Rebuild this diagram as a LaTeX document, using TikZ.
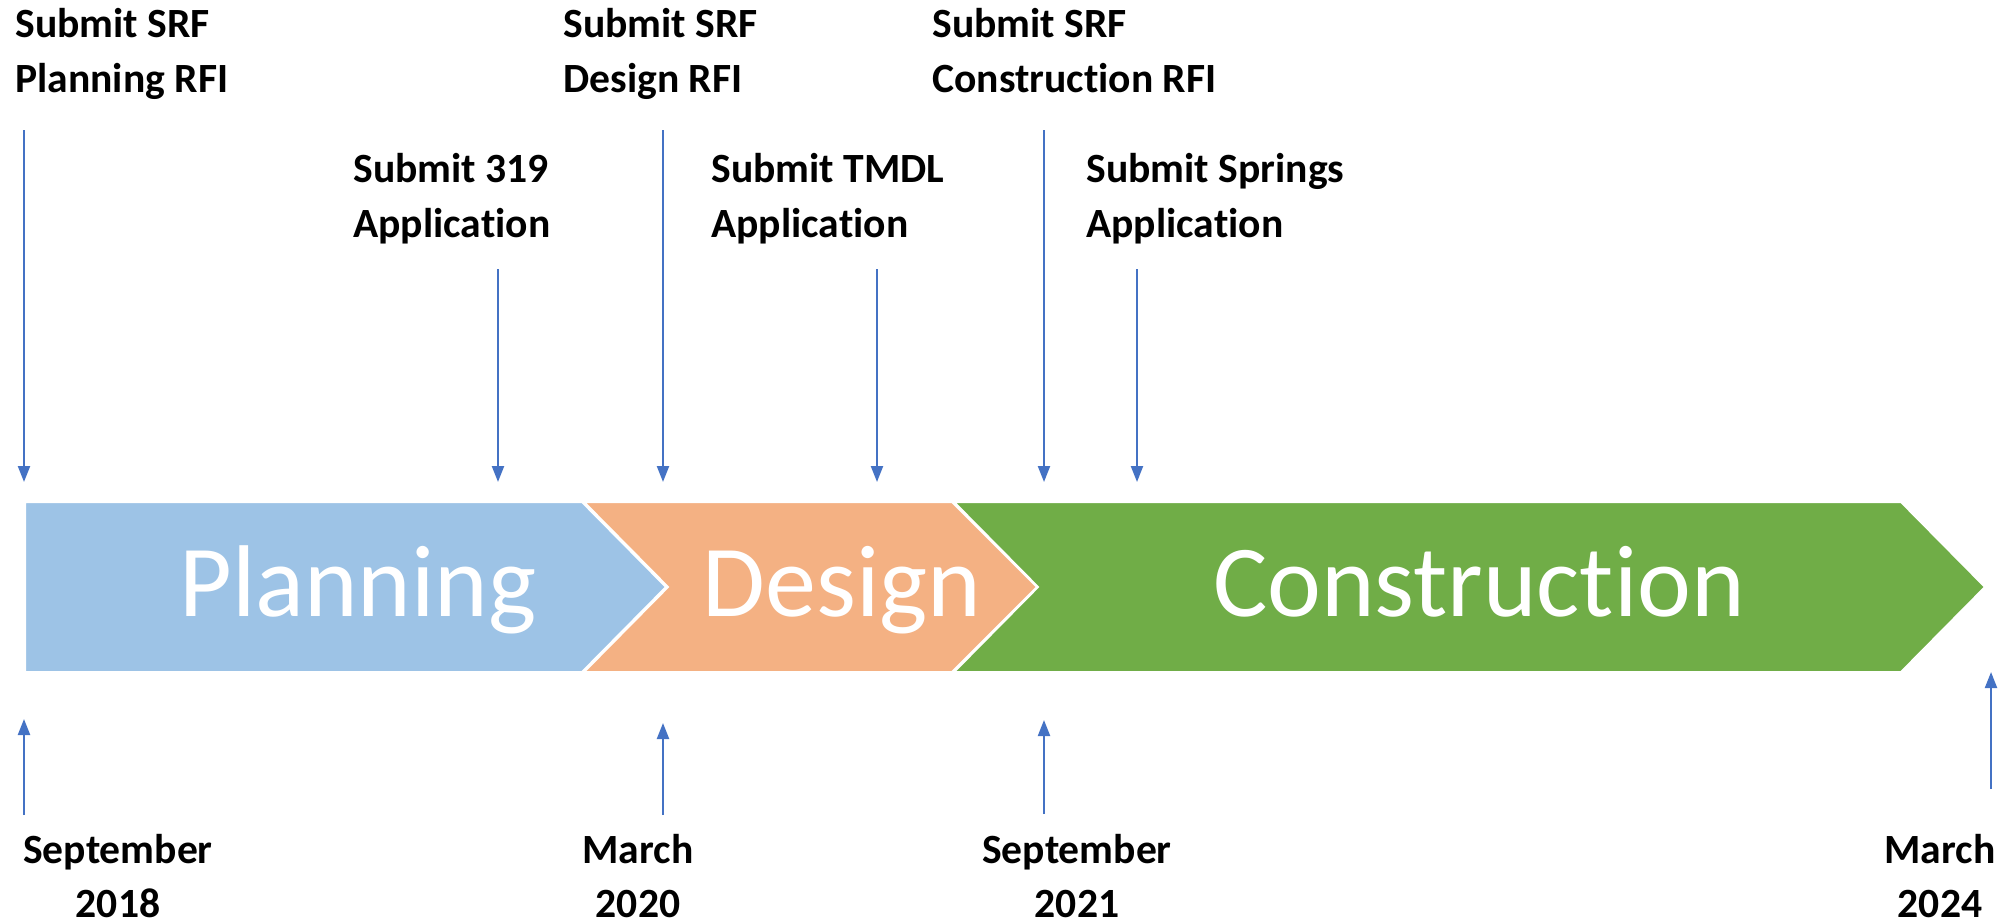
\documentclass[tikz,border=0pt]{standalone}
\usepackage{fontspec}
\setmainfont{Carlito}[Ligatures=NoCommon]
\usetikzlibrary{arrows.meta}
\definecolor{planblue}{HTML}{9DC3E6}
\definecolor{designorange}{HTML}{F4B183}
\definecolor{buildgreen}{HTML}{70AD47}
\definecolor{arrowblue}{HTML}{4472C4}
\begin{document}
\begin{tikzpicture}[x=0.5pt, y=-0.5pt,
    tick/.style={arrowblue, line width=1.1pt, -{Triangle[length=8pt,width=6pt]}},
    phase/.style={draw=white, line width=1pt},
    phasetext/.style={white, inner sep=0, anchor=base, font=\fontsize{51pt}{60pt}\selectfont},
    toplbl/.style={inner sep=0, anchor=base west, align=left, font=\fontsize{20.8pt}{27.5pt}\selectfont\bfseries},
    datelbl/.style={inner sep=0, anchor=base, align=center, font=\fontsize{20.8pt}{27pt}\selectfont\bfseries}]
    \useasboundingbox (0,0) rectangle (2007,923);

    % Phases
    \filldraw[planblue, phase] (25,502) -- (582,502) -- (666,587) -- (582,672) -- (25,672) -- cycle;
    \filldraw[designorange, phase] (584,502) -- (952,502) -- (1037,587) -- (952,672) -- (584,672) -- (668,587) -- cycle;
    \filldraw[buildgreen, phase] (954,502) -- (1901,502) -- (1985,587) -- (1901,672) -- (954,672) -- (1038,587) -- cycle;

    \node[phasetext] (planning) at (358,616) {Planning};
    \node[phasetext] (design) at (842,616) {Design};
    \node[phasetext] (construction) at (1479,616) {Construction};

    % Submissions (base = last line)
    \node[toplbl] (srfplan) at (15,92) {Submit SRF\\Planning RFI};
    \node[toplbl] (app319) at (353,237) {Submit 319\\Application};
    \node[toplbl] (srfdesign) at (563,92) {Submit SRF\\Design RFI};
    \node[toplbl] (apptmdl) at (711,237) {Submit TMDL\\Application};
    \node[toplbl] (srfbuild) at (932,92) {Submit SRF\\Construction RFI};
    \node[toplbl] (appsprings) at (1086,237) {Submit Springs\\Application};

    \foreach \x/\y [count=\i] in {24/130, 498/269, 663/130, 877/269, 1044/130, 1137/269} {
        \coordinate (sub\i-a) at (\x,\y);
        \coordinate (sub\i-b) at (\x,482);
        \draw[tick] (sub\i-a) -- (sub\i-b);
    }

    % Dates
    \node[datelbl] (sep18) at (118,917) {September\\2018};
    \node[datelbl] (mar20) at (638,917) {March\\2020};
    \node[datelbl] (sep21) at (1077,917) {September\\2021};
    \node[datelbl] (mar24) at (1940,917) {March\\2024};

    \foreach \x/\ya/\yb [count=\i] in {24/815/719, 663/815/723, 1044/814/720, 1991/789/672} {
        \coordinate (date\i-a) at (\x,\ya);
        \coordinate (date\i-b) at (\x,\yb);
        \draw[tick] (date\i-a) -- (date\i-b);
    }
\end{tikzpicture}
\end{document}
